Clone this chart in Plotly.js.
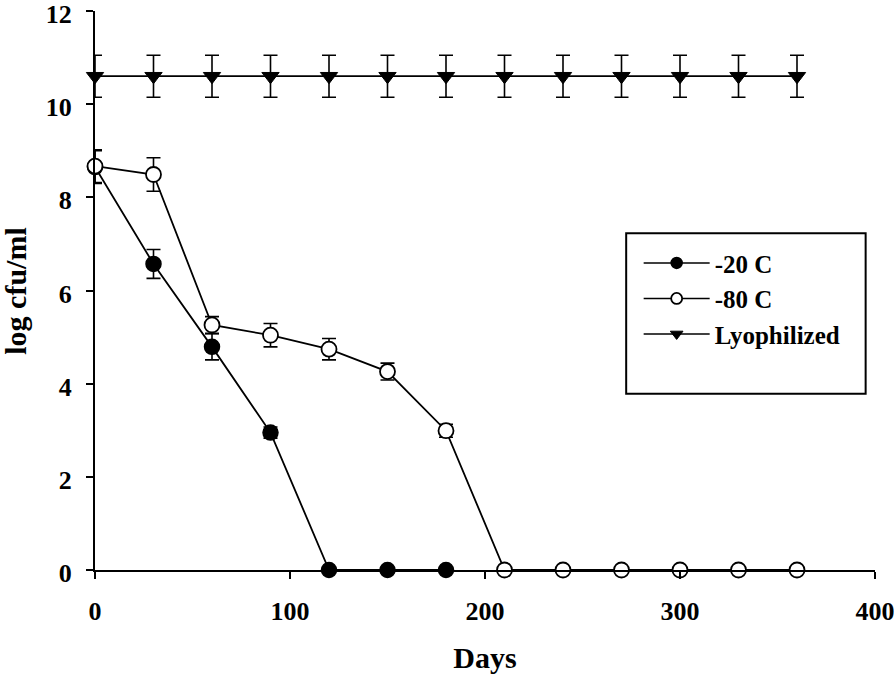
<!DOCTYPE html>
<html>
<head>
<meta charset="utf-8">
<script src="https://cdn.plot.ly/plotly-3.0.1.min.js"></script>
<style>html,body{margin:0;padding:0;background:#fff;}#chart{width:894px;height:676px;}</style>
</head>
<body>
<div id="chart"></div>
<script>
// Data
const daysM20 = [0, 30, 60, 90, 120, 150, 180];
const valsM20 = [8.65, 6.57, 4.79, 2.95, 0, 0, 0];
const errM20  = [0.35, 0.31, 0.28, 0.12, 0, 0, 0];

const daysM80 = [0, 30, 60, 90, 120, 150, 180, 210, 240, 270, 300, 330, 360];
const valsM80 = [8.67, 8.49, 5.26, 5.04, 4.74, 4.26, 2.99, 0, 0, 0, 0, 0, 0];
const errM80  = [0.35, 0.36, 0.18, 0.25, 0.23, 0.18, 0.14, 0, 0, 0, 0, 0, 0];

const daysLyo = [0, 30, 60, 90, 120, 150, 180, 210, 240, 270, 300, 330, 360];
const valsLyo = [10.6, 10.6, 10.6, 10.6, 10.6, 10.6, 10.6, 10.6, 10.6, 10.6, 10.6, 10.6, 10.6];
const errLyo  = [0.45, 0.45, 0.45, 0.45, 0.45, 0.45, 0.45, 0.45, 0.45, 0.45, 0.45, 0.45, 0.45];

const seriesNames = ['-20 C', '-80 C', 'Lyophilized'];
const xTicks = [0, 100, 200, 300, 400];
const yTicks = [0, 2, 4, 6, 8, 10, 12];
const xTitle = 'Days';
const yTitle = 'log cfu/ml';

const FONT = 'Liberation Serif, Times New Roman, serif';
const errStyle = (arr) => ({type: 'data', array: arr, visible: true, color: '#000', thickness: 1.6, width: 7});

const markerM20 = {symbol: 'circle', color: '#000', line: {color: '#000', width: 1.5}};
const markerM80 = {symbol: 'circle', color: '#fff', line: {color: '#000', width: 1.8}};
const markerLyo = {symbol: 'triangle-down', color: '#000', line: {color: '#000', width: 1}};

const traces = [
  {
    x: daysM20, y: valsM20, name: seriesNames[0], type: 'scatter', mode: 'lines+markers', showlegend: false,
    line: {color: '#000', width: 1.8}, marker: Object.assign({size: 15}, markerM20),
    error_y: errStyle(errM20), cliponaxis: false
  },
  {
    x: daysM80, y: valsM80, name: seriesNames[1], type: 'scatter', mode: 'lines+markers', showlegend: false,
    line: {color: '#000', width: 1.8}, marker: Object.assign({size: 15}, markerM80),
    error_y: errStyle(errM80), cliponaxis: false
  },
  {
    x: daysLyo, y: valsLyo, name: seriesNames[2], type: 'scatter', mode: 'lines+markers', showlegend: false,
    line: {color: '#000', width: 1.8}, marker: Object.assign({size: 15}, markerLyo),
    error_y: errStyle(errLyo), cliponaxis: false
  }
];
// legend-only entries (smaller legend symbols, as in the original)
[markerM20, markerM80, markerLyo].forEach((m, i) => {
  traces.push({
    x: [null], y: [null], name: seriesNames[i], type: 'scatter', mode: 'lines+markers',
    line: {color: '#000', width: 1.5}, marker: Object.assign({}, m, {size: 11}), showlegend: true
  });
});

const layout = {
  width: 894, height: 676,
  paper_bgcolor: '#fff', plot_bgcolor: '#fff',
  margin: {l: 95, r: 19, t: 11, b: 106},
  font: {family: FONT, color: '#000', size: 26, weight: 'bold'},
  showlegend: true,
  legend: {
    x: 0.697, y: 0.59, xanchor: 'left', yanchor: 'top',
    bgcolor: 'rgba(0,0,0,0)', borderwidth: 0,
    font: {family: FONT, size: 25, color: '#000', weight: 'bold'},
    itemwidth: 66, tracegroupgap: 0
  },
  xaxis: {
    range: [0, 400], tickvals: xTicks, ticktext: xTicks.map(String),
    showgrid: false, zeroline: false, showline: true, linecolor: '#000', linewidth: 2,
    ticks: 'outside', ticklen: 7, tickwidth: 2, tickcolor: '#000',
    ticklabelstandoff: 10, ticklabeloverflow: 'allow',
    tickfont: {family: FONT, size: 26, weight: 'bold'},
    title: {text: xTitle, font: {family: FONT, size: 30, weight: 'bold'}, standoff: 22}
  },
  yaxis: {
    range: [0, 12], tickvals: yTicks, ticktext: yTicks.map(String),
    showgrid: false, zeroline: false, showline: true, linecolor: '#000', linewidth: 2,
    ticks: 'outside', ticklen: 7, tickwidth: 2, tickcolor: '#000',
    ticklabelstandoff: 9, ticklabeloverflow: 'allow', ticklabelshift: 3,
    tickfont: {family: FONT, size: 26, weight: 'bold'}
  },
  annotations: [{
    text: yTitle, xref: 'paper', yref: 'paper', x: -0.103, y: 0.499,
    xanchor: 'center', yanchor: 'middle', textangle: -90, showarrow: false,
    font: {family: FONT, size: 30, weight: 'bold', color: '#000'}
  }],
  shapes: [{
    type: 'rect', xref: 'paper', yref: 'paper',
    x0: 0.681, x1: 0.988, y0: 0.3155, y1: 0.6025,
    line: {color: '#000', width: 2}, fillcolor: 'rgba(0,0,0,0)', layer: 'above'
  }]
};

Plotly.newPlot('chart', traces, layout, {displayModeBar: false, staticPlot: true});
</script>
</body>
</html>
